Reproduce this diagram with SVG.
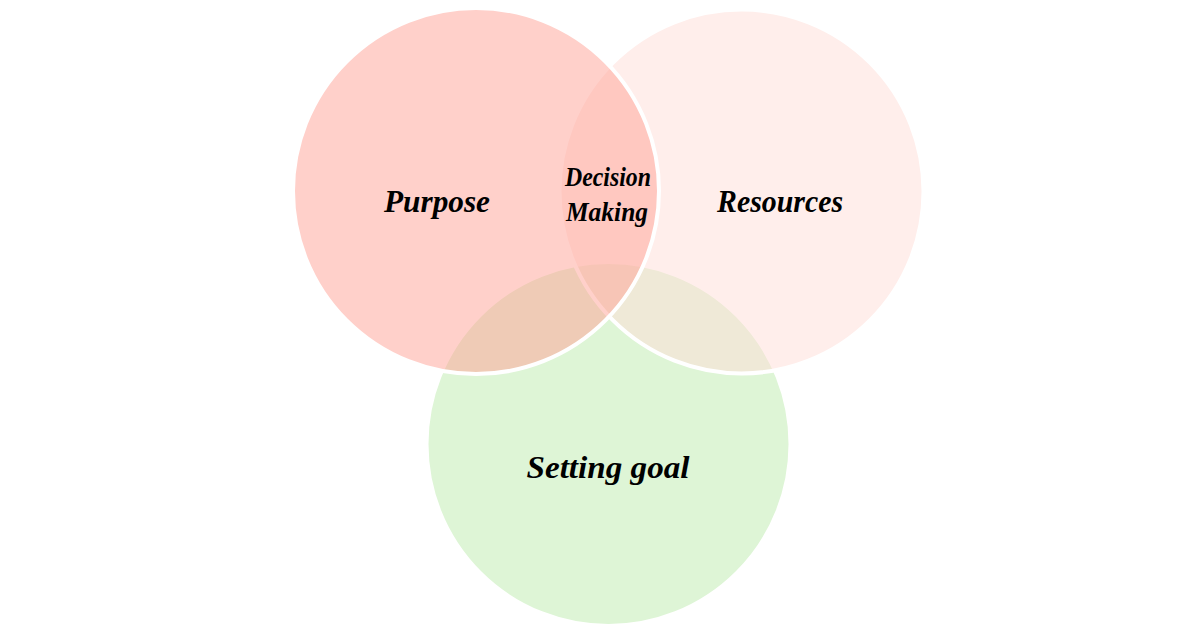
<svg xmlns="http://www.w3.org/2000/svg" width="1200" height="628" viewBox="0 0 1200 628">
<style>
.c{stroke:#ffffff;stroke-width:4}
.t{font-family:"Liberation Serif","DejaVu Serif",serif;font-style:italic;font-weight:bold;fill:#000;text-anchor:middle}
</style>
<rect width="1200" height="628" fill="#ffffff"/>
<g id="setting-goal">
<circle class="c" cx="608.5" cy="444" r="182" fill="#DEF5D6"/>
</g>
<g id="resources">
<circle class="c" cx="741.5" cy="191.5" r="182" fill="#FFDDD7" fill-opacity="0.5"/>
</g>
<g id="purpose">
<circle class="c" cx="476" cy="191" r="183" fill="#FFA195" fill-opacity="0.5"/>
</g>
<g id="labels">
<text class="t" x="437" y="212" font-size="32" textLength="106" lengthAdjust="spacingAndGlyphs">Purpose</text>
<text class="t" x="780" y="212" font-size="32" textLength="126" lengthAdjust="spacingAndGlyphs">Resources</text>
<text class="t" x="608" y="478" font-size="32" textLength="163" lengthAdjust="spacingAndGlyphs">Setting goal</text>
<text class="t" x="608" y="186" font-size="27" textLength="86" lengthAdjust="spacingAndGlyphs">Decision</text>
<text class="t" x="607" y="221" font-size="27" textLength="82" lengthAdjust="spacingAndGlyphs">Making</text>
</g>
<g id="connectors"/>
</svg>
